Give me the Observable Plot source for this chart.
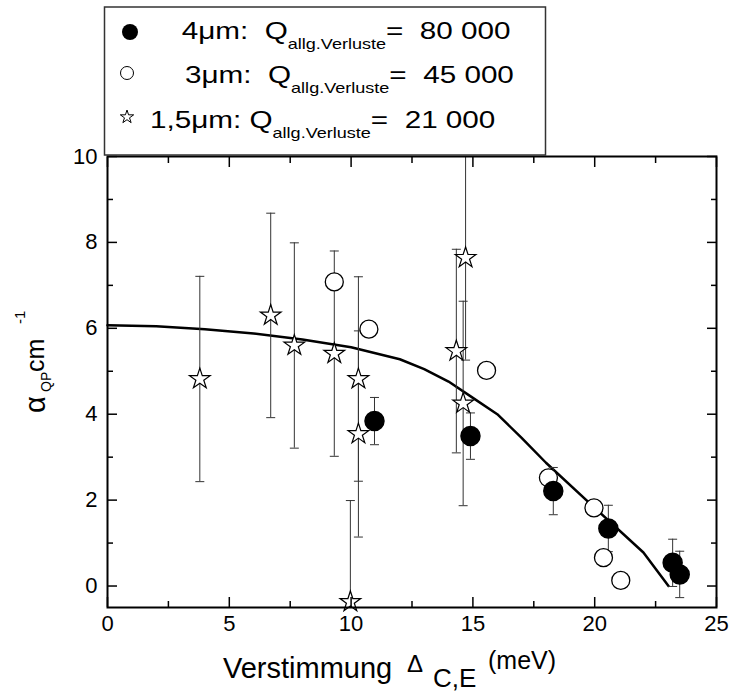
<!DOCTYPE html>
<html><head><meta charset="utf-8">
<script src="https://cdn.jsdelivr.net/npm/d3@7"></script>
<script src="https://cdn.jsdelivr.net/npm/@observablehq/plot@0.6"></script>
<style>
body{margin:0;background:#fff;}
#wrap{position:relative;width:732px;height:693px;font-family:"Liberation Sans",Arial,sans-serif;}
#legend{position:absolute;left:0;top:0;}
</style></head><body><div id="wrap"></div>
<script>
// ---- tick values ----
const xTicks = [0, 5, 10, 15, 20, 25];
const xMinor = [2.5, 7.5, 12.5, 17.5, 22.5];
const yTicks = [0, 2, 4, 6, 8, 10];
const yMinor = [1, 3, 5, 7, 9];

// ---- 1,5 µm (stars) ----
const starX = [3.79, 6.7, 7.67, 9.31, 10.3, 10.3, 9.97, 14.32, 14.7, 14.6];
const starY = [4.82, 6.3, 5.6, 5.41, 4.82, 3.54, -0.37, 5.47, 7.64, 4.25];
const starErr = [2.39, 2.38, 2.39, 2.39, 2.38, 2.4, 2.36, 2.37, 2.38, 2.38];

// ---- 4 µm (filled circles) ----
const fullX = [10.96, 14.9, 18.3, 20.56, 23.2, 23.49];
const fullY = [3.84, 3.49, 2.21, 1.34, 0.54, 0.27];
const fullErr = [0.55, 0.54, 0.55, 0.54, 0.55, 0.54];

// ---- 3 µm (open circles) ----
const openX = [9.31, 10.73, 15.56, 18.1, 19.97, 20.36, 21.07];
const openY = [7.08, 5.98, 5.02, 2.52, 1.82, 0.66, 0.13];

// ---- model curve ----
const curveX = [0, 2, 4, 6, 8, 10, 12, 13, 14, 15, 16, 17, 18, 20, 22, 23.03];
const curveY = [6.07, 6.05, 5.98, 5.88, 5.74, 5.56, 5.28, 5.05, 4.76, 4.38, 4.0, 3.45, 2.87, 1.82, 0.78, 0];

// ---- legend texts ----
const legendLabels = ["4\u03bcm:\u00a0\u00a0Q", "3\u03bcm:\u00a0\u00a0Q", "1,5\u03bcm:\u00a0Q"];
const legendSub = "allg.Verluste";
const legendValues = ["=\u00a0\u00a080\u00a0000", "=\u00a0\u00a045\u00a0000", "=\u00a0\u00a021\u00a0000"];

const stars = starX.map((x, i) => ({x, y: starY[i], lo: starY[i] - starErr[i], hi: starY[i] + starErr[i]}));
const fulls = fullX.map((x, i) => ({x, y: fullY[i], lo: fullY[i] - fullErr[i], hi: fullY[i] + fullErr[i]}));
const opens = openX.map((x, i) => ({x, y: openY[i]}));
const curve = curveX.map((x, i) => ({x, y: curveY[i]}));
const bars = [...stars, ...fulls];

const cap = {draw(ctx) { ctx.moveTo(-4.5, 0); ctx.lineTo(4.5, 0); }};

const plot = Plot.plot({
  width: 732, height: 693,
  marginLeft: 107, marginRight: 16, marginTop: 156, marginBottom: 86,
  style: {background: "#fff", fontFamily: "'Liberation Sans', Arial, sans-serif", color: "#000"},
  x: {domain: [0, 25]},
  y: {domain: [-0.5, 10]},
  marks: [
    Plot.line(curve, {x: "x", y: "y", stroke: "#000", strokeWidth: 2.5}),
    Plot.ruleX(bars, {x: "x", y1: "lo", y2: "hi", stroke: "#333", strokeWidth: 1, clip: true}),
    Plot.dot(bars, {x: "x", y: "lo", symbol: cap, r: 3, fill: "none", stroke: "#333", strokeWidth: 1, clip: true}),
    Plot.dot(bars, {x: "x", y: "hi", symbol: cap, r: 3, fill: "none", stroke: "#333", strokeWidth: 1, clip: true}),
    Plot.dot(opens, {x: "x", y: "y", r: 9, fill: "#fff", stroke: "#000", strokeWidth: 1.3}),
    Plot.dot(stars, {x: "x", y: "y", symbol: "star", r: 6.5, fill: "#fff", stroke: "#000", strokeWidth: 1.2}),
    Plot.dot(fulls, {x: "x", y: "y", r: 9.5, fill: "#000", stroke: "#000"}),
    Plot.frame({stroke: "#000", strokeWidth: 2}),
    // major / minor inward ticks
    Plot.axisX({anchor: "bottom", ticks: xTicks, tickSize: -10, strokeWidth: 1.5, fill: "none", label: null}),
    Plot.axisX({anchor: "bottom", ticks: xMinor, tickSize: -6, strokeWidth: 1.5, fill: "none", label: null}),
    Plot.axisX({anchor: "top", ticks: xTicks, tickSize: -10, strokeWidth: 1.5, fill: "none", label: null}),
    Plot.axisX({anchor: "top", ticks: xMinor, tickSize: -6, strokeWidth: 1.5, fill: "none", label: null}),
    Plot.axisY({anchor: "left", ticks: yTicks, tickSize: -10, strokeWidth: 1.5, fill: "none", label: null}),
    Plot.axisY({anchor: "left", ticks: yMinor, tickSize: -6, strokeWidth: 1.5, fill: "none", label: null}),
    Plot.axisY({anchor: "right", ticks: yTicks, tickSize: -10, strokeWidth: 1.5, fill: "none", label: null}),
    Plot.axisY({anchor: "right", ticks: yMinor, tickSize: -6, strokeWidth: 1.5, fill: "none", label: null}),
    // tick labels
    Plot.axisX({anchor: "bottom", ticks: xTicks, tickSize: 0, tickPadding: 8, fontSize: 22, label: null}),
    Plot.axisY({anchor: "left", ticks: yTicks, tickSize: 0, tickPadding: 10, fontSize: 22, label: null})
  ]
});

const wrap = document.getElementById("wrap");
wrap.appendChild(plot);

// axis titles with sub/superscripts
const svg = d3.select(plot);
const ff = "'Liberation Sans', Arial, sans-serif";
const xt = svg.append("g").attr("font-family", ff).attr("fill", "#000").attr("text-anchor", "start");
xt.append("text").attr("x", 223).attr("y", 678).attr("font-size", 29).text("Verstimmung");
xt.append("text").attr("x", 407).attr("y", 672).attr("font-size", 24).text("\u0394");
xt.append("text").attr("x", 433).attr("y", 687).attr("font-size", 26).text("C,E");
xt.append("text").attr("x", 488).attr("y", 669).attr("font-size", 25).text("(meV)");

const yt = svg.append("g").attr("font-family", ff).attr("fill", "#000").attr("text-anchor", "start")
  .attr("transform", "translate(45,413) rotate(-90)");
yt.append("text").attr("x", 0).attr("y", 0).attr("font-size", 29).text("\u03b1");
yt.append("text").attr("x", 21).attr("y", 6).attr("font-size", 14).text("QP");
yt.append("text").attr("x", 41).attr("y", -1).attr("font-size", 25).text("cm");
yt.append("text").attr("x", 89).attr("y", -20).attr("font-size", 15).text("-1");

// legend (drawn above the plot frame)
const lg = d3.select(wrap).append("svg").attr("id", "legend")
  .attr("width", 732).attr("height", 160).attr("font-family", ff);
lg.append("rect").attr("x", 104.5).attr("y", 7).attr("width", 441).attr("height", 148)
  .attr("fill", "none").attr("stroke", "#333").attr("stroke-width", 1.5);
lg.append("circle").attr("cx", 130).attr("cy", 32).attr("r", 8).attr("fill", "#000");
lg.append("circle").attr("cx", 127).attr("cy", 73).attr("r", 6.5).attr("fill", "#fff").attr("stroke", "#000").attr("stroke-width", 1);
lg.append("path").attr("transform", "translate(127,117)")
  .attr("d", d3.symbol(d3.symbolStar, 55)()).attr("fill", "#fff").attr("stroke", "#000").attr("stroke-width", 1);

const rowX = [181.7, 185, 150];
const rowY = [39, 83, 128];
legendLabels.forEach((lab, i) => {
  const g = lg.append("g").attr("transform", `translate(${rowX[i]},${rowY[i]}) scale(1.29,1)`);
  const t = g.append("text").attr("x", 0).attr("y", 0).attr("font-size", 23).attr("fill", "#000");
  t.append("tspan").text(lab);
  t.append("tspan").attr("font-size", 14).attr("dy", 10).text(legendSub);
  t.append("tspan").attr("font-size", 23).attr("dy", -10).text(legendValues[i]);
});
</script></body></html>
